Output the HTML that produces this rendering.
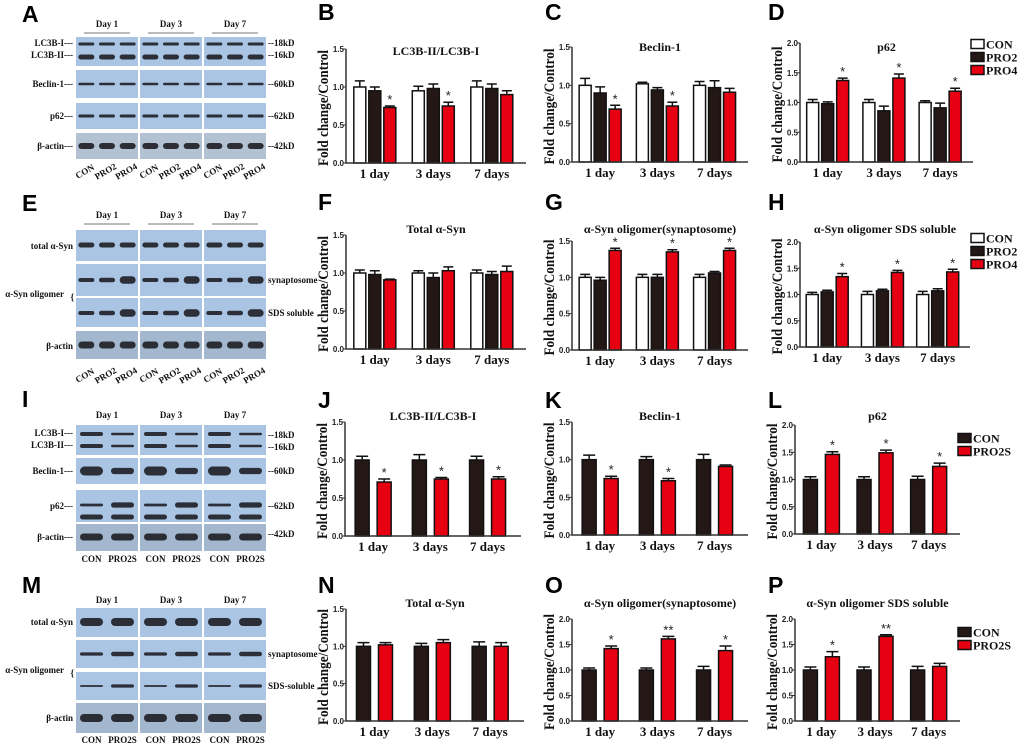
<!DOCTYPE html>
<html><head><meta charset="utf-8">
<style>
html,body{margin:0;padding:0;background:#fff;}
svg{display:block;}
.lt{font-family:"Liberation Sans",sans-serif;font-weight:bold;font-size:23px;fill:#000;}
.bl{font-family:"Liberation Serif",serif;font-weight:bold;font-size:9px;fill:#111;}
.tk{font-family:"Liberation Sans",sans-serif;font-weight:bold;font-size:9px;fill:#222;}
.xl{font-family:"Liberation Serif",serif;font-weight:bold;font-size:13px;fill:#111;}
.tt{font-family:"Liberation Serif",serif;font-weight:bold;font-size:12px;fill:#111;}
.yt{font-family:"Liberation Serif",serif;font-weight:bold;font-size:15px;fill:#111;}
.lg{font-family:"Liberation Serif",serif;font-weight:bold;font-size:12px;fill:#111;}
</style></head>
<body>
<svg id="fig" width="1020" height="747" viewBox="0 0 1020 747" xmlns="http://www.w3.org/2000/svg">
<text class="lt" x="22" y="22">A</text>
<text class="lt" x="22" y="211">E</text>
<text class="lt" x="22" y="407">I</text>
<text class="lt" x="22" y="593">M</text>
<text class="lt" x="318" y="20">B</text>
<text class="lt" x="545" y="20">C</text>
<text class="lt" x="768" y="20">D</text>
<text class="lt" x="318" y="210">F</text>
<text class="lt" x="545" y="210">G</text>
<text class="lt" x="768" y="210">H</text>
<text class="lt" x="318" y="408">J</text>
<text class="lt" x="545" y="408">K</text>
<text class="lt" x="768" y="408">L</text>
<text class="lt" x="318" y="593">N</text>
<text class="lt" x="545" y="593">O</text>
<text class="lt" x="768" y="593">P</text>
<g id="blots"></g>
<g id="charts"></g>
</svg>
<script>
// ---- chart data ----
const days = ["1 day", "3 days", "7 days"];
const ticks15 = [0, 0.5, 1.0, 1.5];
const ticks20 = [0, 0.5, 1.0, 1.5, 2.0];
const groups3 = ["CON", "PRO2", "PRO4"];
const groups2 = ["CON", "PRO2S"];
// B LC3B-II/LC3B-I
const bCon = [1.0, 0.95, 1.0];  const bConErr = [0.08, 0.06, 0.08];
const bPro2 = [0.95, 0.98, 0.98]; const bPro2Err = [0.05, 0.06, 0.06];
const bPro4 = [0.73, 0.75, 0.90]; const bPro4Err = [0.02, 0.05, 0.05];
const bStars = ["*", "*", ""];
// C Beclin-1
const cCon = [1.0, 1.02, 1.0];  const cConErr = [0.09, 0.02, 0.05];
const cPro2 = [0.90, 0.94, 0.97]; const cPro2Err = [0.08, 0.03, 0.09];
const cPro4 = [0.69, 0.73, 0.91]; const cPro4Err = [0.05, 0.05, 0.05];
const cStars = ["*", "*", ""];
// D p62
const dCon = [1.0, 1.0, 1.0];  const dConErr = [0.05, 0.05, 0.03];
const dPro2 = [0.98, 0.86, 0.91]; const dPro2Err = [0.03, 0.08, 0.08];
const dPro4 = [1.37, 1.41, 1.19]; const dPro4Err = [0.04, 0.07, 0.05];
const dStars = ["*", "*", "*"];
// F Total a-Syn
const fCon = [1.0, 1.0, 1.0];  const fConErr = [0.04, 0.03, 0.04];
const fPro2 = [0.98, 0.94, 0.98]; const fPro2Err = [0.05, 0.06, 0.04];
const fPro4 = [0.91, 1.03, 1.02]; const fPro4Err = [0.01, 0.05, 0.07];
const fStars = ["", "", ""];
// G oligomer synaptosome
const gCon = [1.0, 1.0, 1.0];  const gConErr = [0.04, 0.04, 0.04];
const gPro2 = [0.96, 1.0, 1.06]; const gPro2Err = [0.04, 0.04, 0.02];
const gPro4 = [1.37, 1.35, 1.37]; const gPro4Err = [0.03, 0.03, 0.03];
const gStars = ["*", "*", "*"];
// H oligomer SDS soluble
const hCon = [1.0, 1.0, 1.0];  const hConErr = [0.04, 0.06, 0.06];
const hPro2 = [1.05, 1.07, 1.07]; const hPro2Err = [0.03, 0.03, 0.04];
const hPro4 = [1.34, 1.42, 1.43]; const hPro4Err = [0.06, 0.04, 0.05];
const hStars = ["*", "*", "*"];
// J
const jCon = [1.0, 1.0, 1.0];  const jConErr = [0.05, 0.07, 0.05];
const jPro = [0.71, 0.75, 0.75]; const jProErr = [0.04, 0.02, 0.03];
const jStars = ["*", "*", "*"];
// K
const kCon = [1.0, 1.0, 1.0];  const kConErr = [0.06, 0.04, 0.07];
const kPro = [0.75, 0.72, 0.91]; const kProErr = [0.03, 0.03, 0.02];
const kStars = ["*", "*", ""];
// L
const lCon = [1.0, 1.0, 1.0];  const lConErr = [0.05, 0.05, 0.06];
const lPro = [1.46, 1.49, 1.24]; const lProErr = [0.05, 0.05, 0.06];
const lStars = ["*", "*", "*"];
// N
const nCon = [1.0, 1.0, 1.0];  const nConErr = [0.05, 0.04, 0.06];
const nPro = [1.02, 1.05, 1.0]; const nProErr = [0.03, 0.04, 0.05];
const nStars = ["", "", ""];
// O
const oCon = [1.0, 1.0, 1.0];  const oConErr = [0.04, 0.04, 0.07];
const oPro = [1.42, 1.61, 1.38]; const oProErr = [0.05, 0.05, 0.09];
const oStars = ["*", "**", "*"];
// P
const pCon = [1.0, 1.0, 1.0];  const pConErr = [0.06, 0.06, 0.07];
const pPro = [1.26, 1.66, 1.07]; const pProErr = [0.10, 0.03, 0.06];
const pStars = ["*", "**", ""];

const NS = "http://www.w3.org/2000/svg";
const charts = document.getElementById("charts");
const blots = document.getElementById("blots");
function mk(tag, attrs, parent) {
  const e = document.createElementNS(NS, tag);
  for (const k in attrs) e.setAttribute(k, attrs[k]);
  parent.appendChild(e);
  return e;
}
const WHITE = "#ffffff", DARK = "#231815", RED = "#e60012";

function drawChart(id, cfg, series, colors, errs, stars, ticks, title, legendNames, legendPos) {
  const g = mk("g", {}, charts);
  
  
  const ymax = ticks[ticks.length - 1];
  const yS = v => cfg.zero - v / ymax * (cfg.zero - cfg.top);
  const xC = i => cfg.x + cfg.w * (0.16 + 0.325 * i);
  const t = mk("text", {x: cfg.x + cfg.w / 2, y: cfg.ty, "text-anchor": "middle", class: "tt"}, g);
  t.textContent = title;
  
  
  const yt = mk("text", {x: 0, y: 0, "text-anchor": "middle", class: "yt", textLength: 116, lengthAdjust: "spacingAndGlyphs",
    transform: "translate(" + (cfg.x - 18) + "," + ((cfg.top + cfg.zero) / 2 + 2) + ") rotate(-90)"}, g);
  yt.textContent = "Fold change/Control";
  
  
  const n = series.length;
  const bw = n === 3 ? 12 : 14, step = n === 3 ? 15 : 22;
  for (let gi = 0; gi < days.length; gi++) {
    for (let s = 0; s < n; s++) {
      const cx = xC(gi) + (s - (n - 1) / 2) * step;
      const v = series[s][gi], e = errs[s][gi];
      const yb = yS(v), ye = yS(v + e);
      const eb = mk("path", {d: "M" + cx + "," + yb + "V" + ye + "M" + (cx - bw / 2 + 1) + "," + ye + "H" + (cx + bw / 2 - 1), stroke: "#111", "stroke-width": 1.5, fill: "none"}, g);
      
      
      const r = mk("rect", {x: cx - bw / 2, y: yb, width: bw, height: cfg.zero - yb, fill: colors[s], stroke: "#111", "stroke-width": 1.5}, g);
      
      
      if (s === n - 1 && stars[gi]) {
        const st = mk("text", {x: cx, y: ye - 2, "text-anchor": "middle", class: "tk", style: "font-size:13px;font-weight:normal"}, g);
        st.textContent = stars[gi];
        
        
      }
    }
    const xl = mk("text", {x: xC(gi), y: cfg.zero + 15, "text-anchor": "middle", class: "xl"}, g);
    xl.textContent = days[gi];
    
    
  }
  const ax = mk("path", {d: "M" + cfg.x + "," + cfg.top + "V" + cfg.zero + "H" + (cfg.x + cfg.w), stroke: "#333", "stroke-width": 1.5, fill: "none"}, g);
  
  
  for (const tv of ticks) {
    const y = yS(tv);
    const tl = mk("line", {x1: cfg.x - 3, x2: cfg.x, y1: y, y2: y, stroke: "#333", "stroke-width": 1}, g);
    
    
    const tx = mk("text", {x: cfg.x - 2, y: y + 3, "text-anchor": "end", class: "tk", style: "font-size:8px"}, g);
    tx.textContent = tv.toFixed(1);
    
    
  }
  if (legendPos) {
    for (let s = 0; s < n; s++) {
      const ly = legendPos.ys[s];
      const lr = mk("rect", {x: legendPos.x, y: ly - 4.5, width: 13, height: 9, fill: colors[s], stroke: "#111", "stroke-width": 1.5}, g);
      
      
      const lt = mk("text", {x: legendPos.x + 15, y: ly + 4.5, class: "lg"}, g);
      lt.textContent = legendNames[s];
      
      
    }
  }
}
const c3 = [WHITE, DARK, RED], c2 = [DARK, RED];
drawChart("b", {x: 346, w: 180, top: 49, zero: 163, ty: 55}, [bCon, bPro2, bPro4], c3, [bConErr, bPro2Err, bPro4Err], bStars, ticks15, "LC3B-II/LC3B-I", groups3);
drawChart("c", {x: 572, w: 176, top: 47, zero: 162, ty: 51}, [cCon, cPro2, cPro4], c3, [cConErr, cPro2Err, cPro4Err], cStars, ticks15, "Beclin-1", groups3);
drawChart("d", {x: 800, w: 173, top: 43, zero: 162, ty: 51}, [dCon, dPro2, dPro4], c3, [dConErr, dPro2Err, dPro4Err], dStars, ticks20, "p62", groups3, {x: 971, ys: [44, 57, 70]});
drawChart("f", {x: 346, w: 180, top: 235, zero: 349, ty: 233}, [fCon, fPro2, fPro4], c3, [fConErr, fPro2Err, fPro4Err], fStars, ticks15, "Total α-Syn", groups3);
drawChart("g", {x: 572, w: 176, top: 241, zero: 350, ty: 233}, [gCon, gPro2, gPro4], c3, [gConErr, gPro2Err, gPro4Err], gStars, ticks15, "α-Syn oligomer(synaptosome)", groups3);
drawChart("h", {x: 800, w: 170, top: 242, zero: 347, ty: 233}, [hCon, hPro2, hPro4], c3, [hConErr, hPro2Err, hPro4Err], hStars, ticks20, "α-Syn oligomer SDS soluble", groups3, {x: 971, ys: [238, 251, 264]});
drawChart("j", {x: 345, w: 176, top: 422, zero: 536, ty: 420}, [jCon, jPro], c2, [jConErr, jProErr], jStars, ticks15, "LC3B-II/LC3B-I", groups2);
drawChart("k", {x: 572, w: 176, top: 422, zero: 535, ty: 420}, [kCon, kPro], c2, [kConErr, kProErr], kStars, ticks15, "Beclin-1", groups2);
drawChart("l", {x: 795, w: 165, top: 425, zero: 534, ty: 420}, [lCon, lPro], c2, [lConErr, lProErr], lStars, ticks20, "p62", groups2, {x: 958, ys: [438, 451]});
drawChart("n", {x: 346, w: 178, top: 609, zero: 721, ty: 607}, [nCon, nPro], c2, [nConErr, nProErr], nStars, ticks15, "Total α-Syn", groups2);
drawChart("o", {x: 572, w: 176, top: 619, zero: 721, ty: 607}, [oCon, oPro], c2, [oConErr, oProErr], oStars, ticks20, "α-Syn oligomer(synaptosome)", groups2);
drawChart("p", {x: 795, w: 165, top: 619, zero: 721, ty: 607}, [pCon, pPro], c2, [pConErr, pProErr], pStars, ticks20, "α-Syn oligomer SDS soluble", groups2, {x: 958, ys: [632, 645]});

// ---- western blot panels (illustrative imagery) ----
function txt(x, y, s, anchor, name, extra) {
  const t = mk("text", Object.assign({x: x, y: y, "text-anchor": anchor, class: "bl"}, extra || {}), blots);
  t.textContent = s;
  
  
  return t;
}
const CW = 62;
function blotPanel(name, cols, lanes, frames, leftLabels, rightLabels, dayY, dayLines, bottomY, bottomNames, rotate) {
  const g = mk("g", {}, blots);
  
  
  frames.forEach(fr => {
    cols.forEach(cx => {
      mk("rect", {x: cx, y: fr.y0, width: CW, height: fr.y1 - fr.y0, fill: fr.bg || "#a9c5e3"}, g);
      fr.bands.forEach(b => {
        for (let l = 0; l < lanes; l++) {
          const lx = cx + CW * (l + 0.5) / lanes;
          const bw = lanes === 3 ? 16 : 23;
          const th = b.h * (b.k ? b.k[l] : 1);
          mk("rect", {x: lx - bw / 2, y: b.y - th / 2, width: bw, height: th, rx: th / 2, fill: "#1e1e24", opacity: 0.9}, g);
        }
      });
    });
  });
  leftLabels.forEach(l => txt(l[2] || 73, l[1], l[0], "end", "blot-row-label"));
  rightLabels.forEach(l => txt(268, l[1], l[0], "start", "blot-marker-label"));
  ["Day 1", "Day 3", "Day 7"].forEach((d, i) => {
    txt(cols[i] + CW / 2, dayY, d, "middle", "day-header");
    if (dayLines) mk("line", {x1: cols[i] + 8, x2: cols[i] + CW - 8, y1: dayY + 6, y2: dayY + 6, stroke: "#777", "stroke-width": 1}, g);
  });
  cols.forEach(cx => {
    bottomNames.forEach((b, l) => {
      const lx = cx + CW * (l + 0.5) / lanes;
      if (rotate) txt(0, 0, b, "middle", "lane-label", {transform: "translate(" + lx + "," + bottomY + ") rotate(-30)"});
      else txt(lx, bottomY, b, "middle", "lane-label");
    });
  });
}
const colsX = [76, 140, 204];
blotPanel("blot-panel-a", colsX, 3, [
  {y0: 37, y1: 66, bands: [{y: 44, h: 3}, {y: 57, h: 5}]},
  {y0: 70, y1: 98, bands: [{y: 84, h: 2.5}]},
  {y0: 103, y1: 129, bands: [{y: 116, h: 3}]},
  {y0: 133, y1: 159, bg: "#b3c2d3", bands: [{y: 146, h: 6}]}
], [["LC3B-I---", 46], ["LC3B-II---", 58], ["Beclin-1---", 87], ["p62---", 119], ["β-actin---", 149]],
[["--18kD", 46], ["--16kD", 58], ["--60kD", 87], ["--62kD", 119], ["--42kD", 149]],
27, true, 174, ["CON", "PRO2", "PRO4"], true);
blotPanel("blot-panel-e", colsX, 3, [
  {y0: 230, y1: 261, bands: [{y: 245, h: 5}]},
  {y0: 264, y1: 296, bands: [{y: 280, h: 5, k: [0.8, 0.9, 1.5]}]},
  {y0: 298, y1: 327, bands: [{y: 313, h: 5, k: [0.8, 0.9, 1.5]}]},
  {y0: 331, y1: 359, bg: "#a3b8cf", bands: [{y: 345, h: 7}]}
], [["total α-Syn", 249], ["α-Syn oligomer", 297, 64], ["{", 300, 74], ["β-actin", 349]],
[["synaptosome", 283], ["SDS soluble", 316]], 218, true, 378, ["CON", "PRO2", "PRO4"], true);
blotPanel("blot-panel-i", colsX, 2, [
  {y0: 425, y1: 455, bands: [{y: 434, h: 4, k: [1, 0.6]}, {y: 446, h: 4, k: [1, 0.6]}]},
  {y0: 458, y1: 484, bands: [{y: 471, h: 9, k: [1, 0.7]}]},
  {y0: 490, y1: 522, bands: [{y: 505, h: 4, k: [0.7, 1.3]}, {y: 517, h: 5}]},
  {y0: 524, y1: 551, bg: "#a3b8cf", bands: [{y: 537, h: 7}]}
], [["LC3B-I---", 436], ["LC3B-II---", 448], ["Beclin-1---", 474], ["p62---", 509], ["β-actin---", 540]],
[["--18kD", 438], ["--16kD", 450], ["--60kD", 474], ["--62kD", 509], ["--42kD", 537]],
418, false, 562, ["CON", "PRO2S"], false);
blotPanel("blot-panel-m", colsX, 2, [
  {y0: 608, y1: 637, bands: [{y: 622, h: 8}]},
  {y0: 640, y1: 668, bands: [{y: 654, h: 4, k: [0.8, 1.1]}]},
  {y0: 672, y1: 700, bands: [{y: 686, h: 2.5, k: [0.7, 1.3]}]},
  {y0: 703, y1: 733, bg: "#a3b8cf", bands: [{y: 718, h: 8}]}
], [["total α-Syn", 625], ["α-Syn oligomer", 673, 64], ["{", 676, 74], ["β-actin", 721]],
[["synaptosome", 657], ["SDS-soluble", 689]], 603, false, 743, ["CON", "PRO2S"], false);
</script>
</body></html>
